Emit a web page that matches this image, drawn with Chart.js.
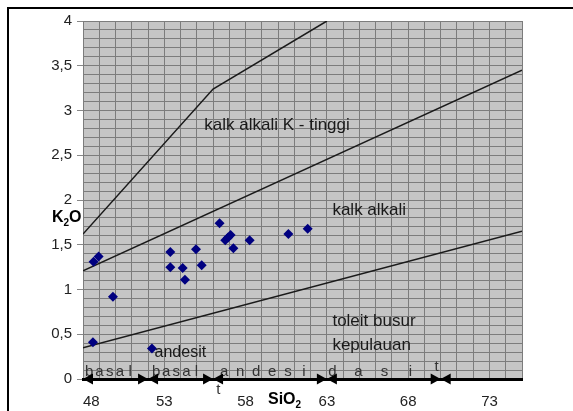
<!DOCTYPE html>
<html>
<head>
<meta charset="utf-8">
<script src="https://cdn.jsdelivr.net/npm/chart.js@4"></script>
<style>
  html, body { margin: 0; padding: 0; background: #fff; overflow: hidden; }
  #wrap { width: 573px; height: 411px; }
</style>
</head>
<body>
<div id="wrap"><canvas id="chart" width="573" height="411"></canvas></div>
<script>
// sample points
const siO2 = [48.61, 48.65, 48.96, 49.84, 52.24, 53.37, 53.37, 54.13, 54.27, 54.95, 55.30, 56.40, 56.75, 56.92, 57.08, 57.25, 58.25, 60.63, 61.82];
const k2O  = [0.41, 1.31, 1.37, 0.92, 0.34, 1.42, 1.25, 1.24, 1.11, 1.45, 1.27, 1.74, 1.55, 1.58, 1.61, 1.46, 1.55, 1.62, 1.68];

// boundary lines
const highKx = [48, 56, 63];
const highKy = [1.62, 3.24, 4.0];
const calcAlkX = [48, 75];
const calcAlkY = [1.21, 3.45];
const tholX = [48, 75];
const tholY = [0.35, 1.65];

// rock name zones along SiO2 axis
const zoneEdges = [48, 52, 56, 63, 70];
const zoneWords = ["basal", "basal", "andesi", "dasi"];
const zoneStart = [48.38, 52.5, 56.69, 63.34];
const zoneStep = [0.63, 0.62, 0.98, 1.6];

const xTicks = [];
for (let v = 48; v <= 75; v++) xTicks.push(v);
const yTicks = [];
for (let i = 0; i <= 40; i++) yTicks.push(i / 10);

const FONT = 'Arial, "Liberation Sans", sans-serif';

function pts(xs, ys) {
    return xs.map((x, i) => ({ x: x, y: ys[i] }));
}

const frame = {
    id: 'frame',
    beforeDraw(chart) {
        const ctx = chart.ctx, a = chart.chartArea;
        ctx.save();
        ctx.fillStyle = '#fff';
        ctx.fillRect(0, 0, chart.width, chart.height);
        ctx.strokeStyle = '#000';
        ctx.lineWidth = 2;
        ctx.beginPath();
        ctx.moveTo(8, chart.height);
        ctx.lineTo(8, 8);
        ctx.lineTo(chart.width, 8);
        ctx.stroke();
        ctx.fillStyle = '#c5c5c5';
        ctx.fillRect(a.left, a.top, a.right - a.left, a.bottom - a.top);
        ctx.restore();
    }
};

const labels = {
    id: 'labels',
    afterDraw(chart) {
        const ctx = chart.ctx, x = chart.scales.x, y = chart.scales.y;
        const px = v => x.getPixelForValue(v), py = v => y.getPixelForValue(v);
        ctx.save();
        ctx.textBaseline = 'middle';
        ctx.fillStyle = '#1a1a1a';

        // region names
        ctx.font = '17px ' + FONT;
        ctx.textAlign = 'left';
        ctx.fillText('kalk alkali K - tinggi', px(55.46), py(2.83));
        ctx.fillText('kalk alkali', px(63.34), py(1.88));
        ctx.fillText('toleit busur', px(63.34), py(0.64));
        ctx.fillText('kepulauan', px(63.34), py(0.38));
        ctx.font = '16px ' + FONT;
        ctx.fillText('andesit', px(52.4), py(0.29));

        // spaced letters of rock names
        ctx.font = '15px ' + FONT;
        ctx.textAlign = 'center';
        ctx.fillStyle = '#333';
        zoneWords.forEach((w, z) => {
            for (let i = 0; i < w.length; i++) {
                ctx.fillText(w[i], px(zoneStart[z] + i * zoneStep[z]), py(0.08));
            }
        });
        ctx.fillText('t', px(69.74), py(0.14));
        ctx.fillText('t', px(56.33), py(-0.12));

        // arrows at zone edges
        ctx.fillStyle = '#000';
        const y0 = py(0), len = 10, h = 5.5;
        zoneEdges.forEach((e, i) => {
            const ex = px(e);
            ctx.beginPath();
            ctx.moveTo(ex, y0);
            ctx.lineTo(ex + len, y0 - h);
            ctx.lineTo(ex + len, y0 + h);
            ctx.closePath();
            ctx.fill();
            if (i > 0) {
                ctx.beginPath();
                ctx.moveTo(ex, y0);
                ctx.lineTo(ex - len, y0 - h);
                ctx.lineTo(ex - len, y0 + h);
                ctx.closePath();
                ctx.fill();
            }
        });

        // axis titles
        ctx.textAlign = 'left';
        ctx.fillStyle = '#000';
        ctx.font = 'bold 16px ' + FONT;
        let tx = 52;
        ctx.fillText('K', tx, 218);
        tx += ctx.measureText('K').width;
        ctx.font = 'bold 10px ' + FONT;
        ctx.fillText('2', tx, 223);
        tx += ctx.measureText('2').width;
        ctx.font = 'bold 16px ' + FONT;
        ctx.fillText('O', tx, 218);

        tx = 268;
        ctx.fillText('SiO', tx, 400);
        tx += ctx.measureText('SiO').width;
        ctx.font = 'bold 10px ' + FONT;
        ctx.fillText('2', tx, 405);
        ctx.restore();
    }
};

new Chart(document.getElementById('chart'), {
    type: 'scatter',
    data: {
        datasets: [
            {
                label: 'sampel',
                data: pts(siO2, k2O),
                pointStyle: 'rectRot',
                pointRadius: 5,
                backgroundColor: '#000080',
                borderColor: '#000080',
                borderWidth: 0,
                order: 0
            },
            {
                data: pts(highKx, highKy),
                showLine: true, pointRadius: 0, borderColor: '#1a1a1a', borderWidth: 1.5, order: 1
            },
            {
                data: pts(calcAlkX, calcAlkY),
                showLine: true, pointRadius: 0, borderColor: '#1a1a1a', borderWidth: 1.5, order: 1
            },
            {
                data: pts(tholX, tholY),
                showLine: true, pointRadius: 0, borderColor: '#1a1a1a', borderWidth: 1.5, order: 1
            }
        ]
    },
    options: {
        responsive: false,
        animation: false,
        layout: { padding: { left: 0, top: 21, right: 51, bottom: 0 } },
        plugins: {
            legend: { display: false },
            tooltip: { enabled: false }
        },
        scales: {
            x: {
                type: 'linear',
                min: 48,
                max: 75,
                afterBuildTicks: s => { s.ticks = xTicks.map(v => ({ value: v })); },
                afterFit: s => { s.height = 32; },
                border: { display: true, color: '#000', width: 3 },
                grid: {
                    color: '#7c7c7c',
                    lineWidth: 1,
                    tickLength: 10,
                    tickColor: 'rgba(0,0,0,0)'
                },
                ticks: {
                    autoSkip: false,
                    maxRotation: 0,
                    align: 'inner',
                    padding: 4,
                    color: '#222',
                    font: { family: FONT, size: 15 },
                    callback: v => ((v - 48) % 5 === 0 ? String(v) : '')
                }
            },
            y: {
                type: 'linear',
                min: 0,
                max: 4,
                afterBuildTicks: s => { s.ticks = yTicks.map(v => ({ value: v })); },
                afterFit: s => { s.width = 83; },
                border: { display: false },
                grid: {
                    color: '#7c7c7c',
                    lineWidth: 1,
                    tickLength: 6,
                    tickColor: c => (Math.round(c.tick.value * 10) % 5 === 0 ? '#888' : 'rgba(0,0,0,0)')
                },
                ticks: {
                    autoSkip: false,
                    padding: 5,
                    color: '#222',
                    font: { family: FONT, size: 15 },
                    callback: v => (Math.round(v * 10) % 5 === 0 ? String(v).replace('.', ',') : '')
                }
            }
        }
    },
    plugins: [frame, labels]
});
</script>
</body>
</html>
